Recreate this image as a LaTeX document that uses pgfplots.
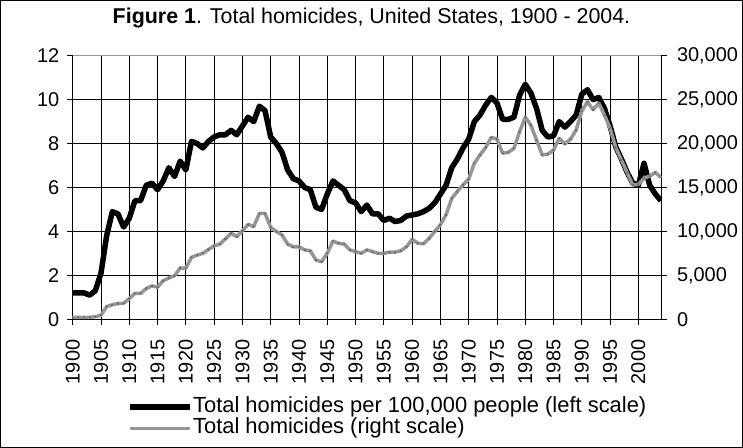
\documentclass[border=0pt]{standalone}
\usepackage{pgfplots}
\pgfplotsset{compat=1.18}
\usepackage{pgfplotstable}
\usepackage{fontspec}
\setmainfont{Liberation Sans}
\definecolor{lgray}{RGB}{150,150,150}
\definecolor{dgray}{RGB}{110,110,110}

\pgfplotstableread{
year rate
1900 1.2
1901 1.2
1902 1.2
1903 1.1
1904 1.3
1905 2.1
1906 3.8
1907 4.9
1908 4.8
1909 4.2
1910 4.6
1911 5.4
1912 5.4
1913 6.1
1914 6.2
1915 5.9
1916 6.3
1917 6.9
1918 6.5
1919 7.2
1920 6.8
1921 8.1
1922 8.0
1923 7.8
1924 8.1
1925 8.3
1926 8.4
1927 8.4
1928 8.6
1929 8.4
1930 8.8
1931 9.2
1932 9.0
1933 9.7
1934 9.5
1935 8.3
1936 8.0
1937 7.6
1938 6.8
1939 6.4
1940 6.3
1941 6.0
1942 5.9
1943 5.1
1944 5.0
1945 5.7
1946 6.3
1947 6.1
1948 5.9
1949 5.4
1950 5.3
1951 4.9
1952 5.2
1953 4.8
1954 4.8
1955 4.5
1956 4.6
1957 4.45
1958 4.5
1959 4.7
1960 4.75
1961 4.8
1962 4.9
1963 5.05
1964 5.3
1965 5.7
1966 6.1
1967 6.9
1968 7.3
1969 7.8
1970 8.2
1971 9.0
1972 9.3
1973 9.75
1974 10.1
1975 9.85
1976 9.1
1977 9.1
1978 9.2
1979 10.2
1980 10.7
1981 10.3
1982 9.6
1983 8.6
1984 8.3
1985 8.35
1986 9.0
1987 8.75
1988 9.0
1989 9.3
1990 10.25
1991 10.45
1992 10.0
1993 10.1
1994 9.6
1995 8.8
1996 7.85
1997 7.3
1998 6.7
1999 6.2
2000 6.1
2001 7.1
2002 6.1
2003 5.7
2004 5.4
}\ratetable

\pgfplotstableread{
year total
1900 230
1901 230
1902 230
1903 230
1904 300
1905 450
1906 1450
1907 1650
1908 1800
1909 1820
1910 2350
1911 2950
1912 2950
1913 3500
1914 3800
1915 3650
1916 4400
1917 4700
1918 4950
1919 5850
1920 5800
1921 7050
1922 7300
1923 7500
1924 7950
1925 8350
1926 8550
1927 9150
1928 9800
1929 9400
1930 10050
1931 10800
1932 10550
1933 12050
1934 12050
1935 10450
1936 10000
1937 9600
1938 8550
1939 8250
1940 8250
1941 7900
1942 7800
1943 6750
1944 6550
1945 7500
1946 8900
1947 8650
1948 8550
1949 7900
1950 7700
1951 7500
1952 7900
1953 7700
1954 7500
1955 7500
1956 7650
1957 7650
1958 7800
1959 8250
1960 9100
1961 8650
1962 8600
1963 9200
1964 10000
1965 10750
1966 11900
1967 13750
1968 14550
1969 15300
1970 15950
1971 17750
1972 18700
1973 19550
1974 20700
1975 20500
1976 18900
1977 19000
1978 19450
1979 21350
1980 23000
1981 22100
1982 20400
1983 18700
1984 18800
1985 19250
1986 20600
1987 19950
1988 20500
1989 21550
1990 23700
1991 24750
1992 23850
1993 24600
1994 23250
1995 21750
1996 19550
1997 18150
1998 16700
1999 15300
2000 15350
2001 16050
2002 16300
2003 16700
2004 16150
}\totaltable

\begin{document}
\begin{tikzpicture}
\draw[black, line width=1bp] (0.5bp,0.5bp) rectangle (742.5bp,447.5bp);
\node[anchor=base, inner sep=0pt, font=\fontsize{21.5}{24}\selectfont] at (371.5bp,424bp)
  {\textbf{Figure 1}. Total homicides, United States, 1900 - 2004.};
\pgfplotsset{
  common/.style={
    at={(72.7bp,128.7bp)}, anchor=south west,
    scale only axis, width=588.3bp, height=263.6bp,
    xmin=1900, xmax=2004,
    tick align=outside, major tick length=6bp,
    tick style={black, line width=0.8bp},
    /pgf/number format/assume math mode=true,
    tick label style={font=\fontsize{20}{22}\selectfont},
  }
}
\begin{axis}[common,
  ymin=0, ymax=12,
  xtick={1900,1905,...,2000}, ytick={0,2,...,12},
  xtick pos=bottom, ytick pos=left,
  xticklabel style={rotate=90, anchor=east},
  xticklabel shift={11bp},
  xticklabel={\pgfmathprintnumber[int detect,1000 sep={}]{\tick}},
  yticklabel style={xshift=-4bp},
  grid=major, major grid style={black, line width=0.8bp},
  axis line style={black, line width=1bp},
  legend style={at={(axis description cs:0.093,-0.292)}, anchor=north west,
    draw=none, fill=none, inner sep=0pt, row sep=0.5bp,
    font=\fontsize{22}{24}\selectfont,
    nodes={inner xsep=0bp, inner ysep=0pt, text height=16bp, text depth=5bp},
    cells={anchor=west}},
  legend image code/.code={\draw[#1] (0bp,0bp) -- (60bp,0bp);},
]
\addplot[black, line width=5.5bp, line join=round] table[x=year,y=rate] {\ratetable};
\addlegendentry{Total homicides per 100,000 people (left scale)}
\addlegendimage{lgray, line width=3.5bp}
\addlegendentry{Total homicides (right scale)}
\draw[lgray, line width=1.2bp] (rel axis cs:0,1) -- (rel axis cs:1,1);
\end{axis}
\begin{axis}[common,
  ymin=0, ymax=30000,
  axis x line=none, axis y line*=right,
  ytick={0,5000,...,30000},
  scaled y ticks=false,
  /pgf/number format/fixed,
  /pgf/number format/1000 sep={,},
  yticklabel style={xshift=6.5bp, font=\fontsize{20}{22}\selectfont},
  axis line style={black, line width=1bp},
]
\addplot[lgray, line width=3.5bp, line join=round, mark=*, mark size=0.6bp,
  mark options={dgray, line width=0pt}] table[x=year,y=total] {\totaltable};
\end{axis}
\end{tikzpicture}
\end{document}
